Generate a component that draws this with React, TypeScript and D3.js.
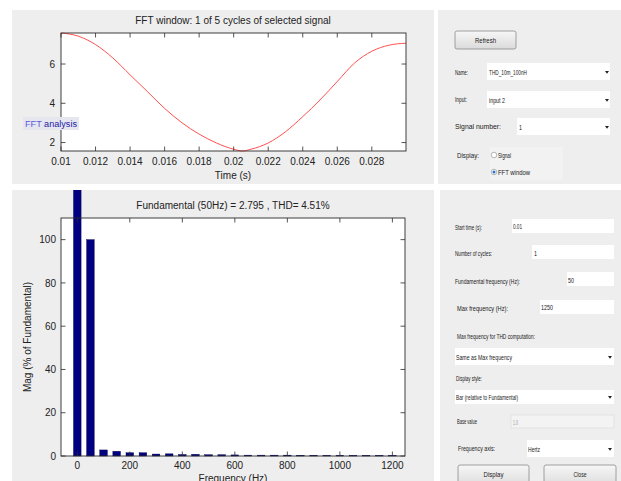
import React from "react";
import * as d3 from "d3";

// ---------- data ----------
const timeS = [0.010, 0.011, 0.012, 0.013, 0.014, 0.015, 0.016, 0.017, 0.018, 0.019, 0.020, 0.0205, 0.021, 0.022, 0.023, 0.024, 0.025, 0.026, 0.027, 0.028, 0.029, 0.02998];
const signalV = [7.58, 7.42, 6.99, 6.31, 5.45, 4.6, 3.74, 3.01, 2.43, 1.98, 1.66, 1.57, 1.66, 1.98, 2.55, 3.32, 4.17, 5.11, 6.05, 6.65, 6.96, 7.06];
const timeTicks = [0.01, 0.012, 0.014, 0.016, 0.018, 0.02, 0.022, 0.024, 0.026, 0.028];
const timeTickLabels = ["0.01", "0.012", "0.014", "0.016", "0.018", "0.02", "0.022", "0.024", "0.026", "0.028"];
const sigTicks = [2, 4, 6];

const freqHz = [0, 50, 100, 150, 200, 250, 300, 350, 400, 450, 500, 550, 600, 650, 700, 750, 800, 850, 900, 950, 1000, 1050, 1100, 1150, 1200];
const magPct = [163, 100, 2.8, 2.2, 1.5, 1.5, 0.9, 1.0, 0.7, 0.8, 0.6, 0.6, 0.5, 0.4, 0.4, 0.4, 0.4, 0.35, 0.35, 0.3, 0.3, 0.3, 0.3, 0.3, 0.3];
const freqTicks = [0, 200, 400, 600, 800, 1000, 1200];
const magTicks = [0, 20, 40, 60, 80, 100];

const topTitle = "FFT window: 1 of 5 cycles of selected signal";
const bottomTitle = "Fundamental (50Hz) = 2.795 , THD= 4.51%";

const FONT = "'Liberation Sans', Arial, Helvetica, sans-serif";
const NARROW = "'Liberation Sans Narrow', 'Liberation Sans', Arial, sans-serif";
const PANEL = "#eeeeee";
const AX = "#2b2b2b";

function T({ x, y, w, children, fill = "#1a1a1a", size = 8, anchor = "start" }: any) {
  return (
    <text x={x} y={y} fontFamily={NARROW} fontSize={size} fill={fill} textLength={w} lengthAdjust="spacingAndGlyphs" textAnchor={anchor} dominantBaseline="central">
      {children}
    </text>
  );
}

function Box({ x, y, w, h, fill = "#ffffff", stroke = "none" }: any) {
  return <rect x={x} y={y} width={w} height={h} fill={fill} stroke={stroke} strokeWidth={0.7} />;
}

function Arrow({ x, y }: any) {
  return <path d={`M${x - 2},${y - 1} L${x + 2},${y - 1} L${x},${y + 1.8} Z`} fill="#222" />;
}

function Button({ x, y, w, h, label, tw }: any) {
  return (
    <g>
      <rect x={x} y={y} width={w} height={h} rx={2} fill="url(#btnGrad)" stroke="#8c8c8c" strokeWidth={0.8} />
      <T x={x + w / 2} y={y + Math.min(h, 18) / 2} w={tw} anchor="middle">{label}</T>
    </g>
  );
}

export default function App() {
  // top chart
  const tL = 61, tR = 406, tT = 33, tB = 151;
  const xT = d3.scaleLinear().domain([0.01, 0.02998]).range([tL, tR]);
  const yT = d3.scaleLinear().domain(d3.extent(signalV) as [number, number]).range([tB, tT]);
  const line = d3.line<number>().x((_, i) => xT(timeS[i])).y((v) => yT(v)).curve(d3.curveMonotoneX);

  // bottom chart
  const bL = 61, bR = 405, bT = 218, bB = 456;
  const xB = d3.scaleLinear().domain([-62, 1248]).range([bL, bR]);
  const yB = d3.scaleLinear().domain([0, 110]).range([bB, bT]);
  const barHalf = 14.5;
  const tick = 4.5;

  return (
    <svg width={621} height={481} style={{ position: "absolute", left: 0, top: 0 }} xmlns="http://www.w3.org/2000/svg">
      <defs>
        <linearGradient id="btnGrad" x1="0" y1="0" x2="0" y2="1">
          <stop offset="0" stopColor="#f7f7f7" />
          <stop offset="1" stopColor="#dadada" />
        </linearGradient>
        <clipPath id="botPanel"><rect x={12} y={190} width={422} height={291} /></clipPath>
        <clipPath id="topPlot"><rect x={tL} y={tT - 1} width={tR - tL} height={tB - tT + 2} /></clipPath>
      </defs>
      <rect x={0} y={0} width={621} height={481} fill="#ffffff" />

      {/* panels */}
      <rect x={12} y={10} width={422} height={174} fill={PANEL} />
      <rect x={12} y={190} width={422} height={291} fill={PANEL} />
      <rect x={438} y={10} width={183} height={174} fill={PANEL} />
      <rect x={440} y={190} width={181} height={291} fill={PANEL} />

      {/* ---------- top chart ---------- */}
      <rect x={tL} y={tT} width={tR - tL} height={tB - tT} fill="#ffffff" />
      <path d={line(signalV) || ""} fill="none" stroke="#ff5050" strokeWidth={1} clipPath="url(#topPlot)" />
      <rect x={tL} y={tT} width={tR - tL} height={tB - tT} fill="none" stroke={AX} strokeWidth={0.9} />
      {timeTicks.map((t, i) => (
        <g key={"tx" + i}>
          <line x1={xT(t)} x2={xT(t)} y1={tB} y2={tB - tick} stroke={AX} strokeWidth={0.8} />
          <line x1={xT(t)} x2={xT(t)} y1={tT} y2={tT + tick} stroke={AX} strokeWidth={0.8} />
          <text x={xT(t)} y={165} textAnchor="middle" fontFamily={FONT} fontSize={10} fill="#222">{timeTickLabels[i]}</text>
        </g>
      ))}
      {sigTicks.map((v, i) => (
        <g key={"ty" + i}>
          <line x1={tL} x2={tL + tick} y1={yT(v)} y2={yT(v)} stroke={AX} strokeWidth={0.8} />
          <line x1={tR} x2={tR - tick} y1={yT(v)} y2={yT(v)} stroke={AX} strokeWidth={0.8} />
          <text x={55} y={yT(v) + 3.6} textAnchor="end" fontFamily={FONT} fontSize={10} fill="#222">{v}</text>
        </g>
      ))}
      <text x={233} y={24} textAnchor="middle" fontFamily={FONT} fontSize={10} fill="#222">{topTitle}</text>
      <text x={233} y={179} textAnchor="middle" fontFamily={FONT} fontSize={10} fill="#222">Time (s)</text>

      {/* FFT analysis label */}
      <rect x={23} y={117} width={56} height={13} fill="#e6e6ee" />
      <text x={25} y={124} dominantBaseline="central" fontFamily={NARROW} fontSize={8.5} textLength={52} lengthAdjust="spacingAndGlyphs">
        <tspan fill="#5a5ae0">FFT </tspan>
        <tspan fill="#1c1ca8">analysis</tspan>
      </text>

      {/* ---------- bottom chart ---------- */}
      <rect x={bL} y={bT} width={bR - bL} height={bB - bT} fill="#ffffff" />
      <g clipPath="url(#botPanel)">
        {freqHz.map((f, i) => (
          <rect key={"b" + i} x={xB(f - barHalf)} y={yB(magPct[i])} width={xB(f + barHalf) - xB(f - barHalf)} height={Math.max(0, yB(0) - yB(magPct[i]))} fill="#000080" stroke="#00004a" strokeWidth={0.4} />
        ))}
      </g>
      <rect x={bL} y={bT} width={bR - bL} height={bB - bT} fill="none" stroke={AX} strokeWidth={0.9} />
      {freqTicks.map((f, i) => (
        <g key={"fx" + i}>
          <line x1={xB(f)} x2={xB(f)} y1={bB} y2={bB - tick} stroke={AX} strokeWidth={0.8} />
          <line x1={xB(f)} x2={xB(f)} y1={bT} y2={bT + tick} stroke={AX} strokeWidth={0.8} />
          <text x={xB(f)} y={469} textAnchor="middle" fontFamily={FONT} fontSize={10} fill="#222">{f}</text>
        </g>
      ))}
      {magTicks.map((v, i) => (
        <g key={"my" + i}>
          <line x1={bL} x2={bL + tick} y1={yB(v)} y2={yB(v)} stroke={AX} strokeWidth={0.8} />
          <line x1={bR} x2={bR - tick} y1={yB(v)} y2={yB(v)} stroke={AX} strokeWidth={0.8} />
          <text x={56} y={yB(v) + 3.6} textAnchor="end" fontFamily={FONT} fontSize={10} fill="#222">{v}</text>
        </g>
      ))}
      <text x={233} y={209} textAnchor="middle" fontFamily={FONT} fontSize={10} fill="#222">{bottomTitle}</text>
      <text x={233} y={482} textAnchor="middle" fontFamily={FONT} fontSize={10} fill="#222">Frequency (Hz)</text>
      <text transform="translate(31,337) rotate(-90)" textAnchor="middle" fontFamily={FONT} fontSize={10} fill="#222">Mag (% of Fundamental)</text>

      {/* ---------- top-right controls ---------- */}
      <Button x={455} y={31} w={61} h={18} label="Refresh" tw={21} />
      <T x={455} y={72} w={13}>Name:</T>
      <Box x={487} y={63} w={123} h={17} />
      <T x={489} y={72} w={38}>THD_10m_100nH</T>
      <Arrow x={607} y={72} />
      <T x={455} y={99} w={12}>Input:</T>
      <Box x={487} y={91} w={123} h={17} />
      <T x={489} y={100} w={16}>input 2</T>
      <Arrow x={607} y={100} />
      <T x={455} y={126} w={46}>Signal number:</T>
      <Box x={517} y={118} w={93} h={17} />
      <T x={519} y={127} w={3}>1</T>
      <Arrow x={607} y={127} />
      <rect x={490} y={147} width={73} height={33} fill="#f2f2f2" />
      <T x={457} y={155} w={22}>Display:</T>
      <circle cx={494} cy={155} r={2.8} fill="#ffffff" stroke="#9a9a9a" strokeWidth={0.7} />
      <T x={498} y={155} w={13}>Signal</T>
      <circle cx={494} cy={172} r={2.8} fill="#ffffff" stroke="#9a9a9a" strokeWidth={0.7} />
      <circle cx={494} cy={172} r={1.5} fill="#2a6fd0" />
      <T x={498} y={172} w={32}>FFT window</T>

      {/* ---------- bottom-right controls ---------- */}
      <T x={455} y={227} w={27}>Start time (s):</T>
      <Box x={512} y={219} w={102} h={14} />
      <T x={513} y={226} w={9}>0.01</T>
      <T x={455} y={253} w={37}>Number of cycles:</T>
      <Box x={532} y={245} w={82} h={14} />
      <T x={534} y={253} w={3}>1</T>
      <T x={455} y={281} w={65}>Fundamental frequency (Hz):</T>
      <Box x={567} y={272} w={47} h={14} />
      <T x={568} y={280} w={6}>50</T>
      <T x={457} y={308} w={51}>Max frequency (Hz):</T>
      <Box x={540} y={300} w={74} h={14} />
      <T x={541} y={307} w={12}>1250</T>
      <T x={457} y={336} w={78}>Max frequency for THD computation:</T>
      <Box x={455} y={348} w={159} h={17} />
      <T x={456} y={357} w={56}>Same as Max frequency</T>
      <Arrow x={610} y={357} />
      <T x={456} y={378} w={26}>Display style:</T>
      <Box x={455} y={390} w={159} h={14} />
      <T x={456} y={397} w={62}>Bar (relative to Fundamental)</T>
      <Arrow x={610} y={397} />
      <T x={457} y={421} w={20}>Base value</T>
      <Box x={511} y={415} w={103} h={13} fill="#f3f3f3" stroke="#dcdcdc" />
      <T x={513} y={422} w={5} fill="#9a9a9a">1.0</T>
      <T x={458} y={448} w={37}>Frequency axis:</T>
      <Box x={527} y={440} w={87} h={17} />
      <T x={528} y={449} w={12}>Hertz</T>
      <Arrow x={610} y={449} />
      <Button x={458} y={465} w={71} h={22} label="Display" tw={20} />
      <Button x={544} y={465} w={72} h={22} label="Close" tw={13} />
    </svg>
  );
}
